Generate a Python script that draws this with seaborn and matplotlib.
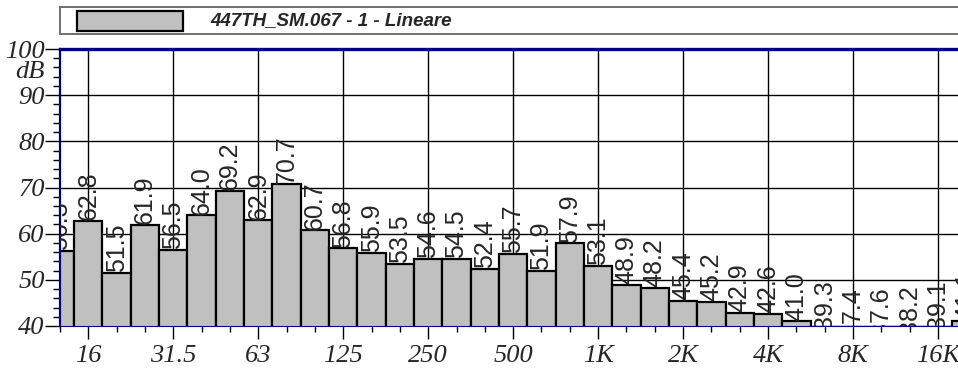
import numpy as np
import pandas as pd
import seaborn as sns
import matplotlib.pyplot as plt
from matplotlib.patches import Rectangle

# third-octave bands 12.5 Hz .. 20 kHz
bands = ["12.5", "16", "20", "25", "31.5", "40", "50", "63", "80", "100",
         "125", "160", "200", "250", "315", "400", "500", "630", "800", "1K",
         "1.25K", "1.6K", "2K", "2.5K", "3.15K", "4K", "5K", "6.3K", "8K", "10K",
         "12.5K", "16K", "20K"]
levels = [56.3, 62.8, 51.5, 61.9, 56.5, 64.0, 69.2, 62.9, 70.7, 60.7,
          56.8, 55.9, 53.5, 54.6, 54.5, 52.4, 55.7, 51.9, 57.9, 53.1,
          48.9, 48.2, 45.4, 45.2, 42.9, 42.6, 41.0, 39.3, 37.4, 37.6,
          38.2, 39.1, 41.1]
octave_labels = ["16", "31.5", "63", "125", "250", "500", "1K", "2K", "4K", "8K", "16K"]
series_name = "447TH_SM.067 - 1 - Lineare"

df = pd.DataFrame({"band": bands, "level": levels})

sns.set_style("white")
plt.rcParams['font.family'] = ['Liberation Sans', 'DejaVu Sans']

W, H = 958, 369
fig = plt.figure(figsize=(W / 100, H / 100), dpi=100)
ax = fig.add_axes([60 / W, 43 / H, (966.3 - 60) / W, (326 - 49) / H])

sns.barplot(data=df, x="band", y="level", order=bands, color="#c0c0c0",
            saturation=1, width=1.0, edgecolor="black", linewidth=1.6, ax=ax)

ax.set_xlim(0, 32)
ax.set_ylim(40, 100)

# value labels above the bars
for i, v in enumerate(levels):
    ax.annotate(f"{v:.1f}", (i, v), xytext=(0, 0.5), textcoords="offset points",
                rotation=90, ha="center", va="bottom", fontsize=18,
                family=["Liberation Sans"], clip_on=True, annotation_clip=False)

# grid
ax.set_yticks(np.arange(40, 101, 10))
ax.set_yticks(np.arange(40, 101, 2), minor=True)
major_x = [bands.index(b) for b in octave_labels]
ax.set_xticks(major_x)
ax.set_xticks(np.arange(len(bands)), minor=True)
ax.set_xticklabels(octave_labels)
ax.set_yticklabels(["40", "50", "60", "70", "80", "90", "100"])
ax.grid(True, which="major", color="black", linewidth=1.0)
ax.set_axisbelow(True)
ax.set_xlabel("")
ax.set_ylabel("")

serif = dict(family=["Liberation Serif"], style="italic", size=19)
for lab in ax.get_yticklabels() + ax.get_xticklabels():
    lab.set_fontfamily(["Liberation Serif"])
    lab.set_fontstyle("italic")
    lab.set_fontsize(19)
ax.tick_params(axis="y", which="major", direction="out", length=11, width=1, color="black", pad=0, left=True)
ax.tick_params(axis="y", which="minor", direction="out", length=5, width=1, color="black", left=True)
ax.tick_params(axis="x", which="major", direction="out", length=9.5, width=1, color="black", pad=4, bottom=True)
ax.tick_params(axis="x", which="minor", direction="out", length=4.5, width=1, color="black", bottom=True)
ax.text(-0.0175, 95, "dB", transform=ax.get_yaxis_transform(), ha="right", va="center", **serif)

for s in ["top", "left", "bottom"]:
    ax.spines[s].set_color("#000080")
ax.spines["top"].set_linewidth(2.4)
ax.spines["left"].set_linewidth(1.6)
ax.spines["bottom"].set_linewidth(0.8)
ax.spines["right"].set_visible(False)

# legend strip at top
fig.patches.append(Rectangle((60 / W, (H - 34) / H), 910 / W, 27 / H, transform=fig.transFigure,
                             facecolor="white", edgecolor="#707070", linewidth=1.4))
fig.patches.append(Rectangle((77 / W, (H - 31) / H), 106 / W, 20 / H, transform=fig.transFigure,
                             facecolor="#c0c0c0", edgecolor="black", linewidth=1.6))
fig.text(210 / W, (H - 20.5) / H, series_name, ha="left", va="center", fontsize=13.5,
         fontweight="bold", fontstyle="italic", family=["Liberation Sans"])

fig.savefig("out.png", dpi=100)
